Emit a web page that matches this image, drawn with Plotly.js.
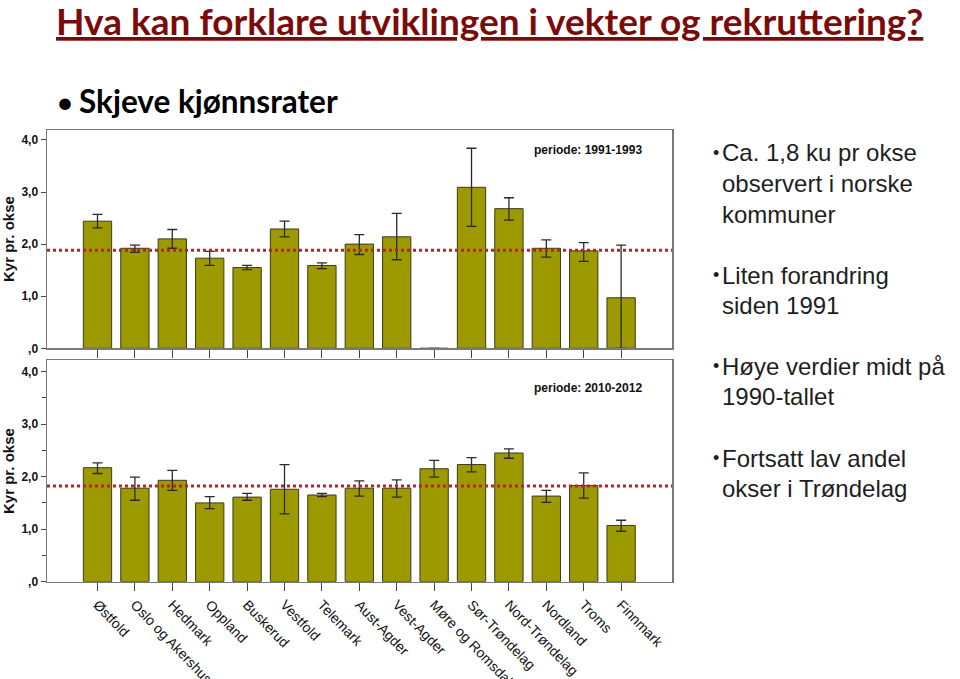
<!DOCTYPE html>
<html>
<head>
<meta charset="utf-8">
<script src="https://cdn.plot.ly/plotly-3.0.1.min.js"></script>
<style>
  html, body { margin: 0; padding: 0; background: #fff; }
  #chart { width: 960px; height: 679px; }
</style>
</head>
<body>
<div id="chart"></div>
<script>
// fylker langs x-aksen
const fylker = ['Østfold', 'Oslo og Akershus', 'Hedmark', 'Oppland', 'Buskerud',
  'Vestfold', 'Telemark', 'Aust-Agder', 'Vest-Agder', 'Møre og Romsdal',
  'Sør-Trøndelag', 'Nord-Trøndelag', 'Nordland', 'Troms', 'Finnmark'];

// periode 1991-1993: gjennomsnitt og konfidensintervall
const kyr9193   = [2.44, 1.92, 2.10, 1.73, 1.55, 2.29, 1.59, 2.00, 2.14, 0, 3.09, 2.68, 1.92, 1.87, 0.97];
const ovre9193  = [2.57, 1.98, 2.28, 1.86, 1.59, 2.44, 1.64, 2.18, 2.59, null, 3.84, 2.89, 2.08, 2.03, 1.98];
const nedre9193 = [2.31, 1.84, 1.92, 1.59, 1.51, 2.14, 1.53, 1.80, 1.70, null, 2.34, 2.46, 1.75, 1.67, 0];
const snitt9193 = 1.88;

// periode 2010-2012
const kyr1012   = [2.17, 1.78, 1.93, 1.50, 1.61, 1.76, 1.65, 1.78, 1.78, 2.15, 2.23, 2.45, 1.63, 1.83, 1.07];
const ovre1012  = [2.26, 1.99, 2.12, 1.62, 1.68, 2.23, 1.68, 1.92, 1.94, 2.31, 2.36, 2.53, 1.74, 2.07, 1.17];
const nedre1012 = [2.06, 1.55, 1.74, 1.39, 1.55, 1.29, 1.62, 1.63, 1.61, 1.99, 2.09, 2.35, 1.51, 1.59, 0.96];
const snitt1012 = 1.82;

const yTicks = [0, 1, 2, 3, 4];
const yTickText = [',0', '1,0', '2,0', '3,0', '4,0'];

const punkter = [
  ['Ca. 1,8 ku pr okse', 'observert i norske', 'kommuner'],
  ['Liten forandring', 'siden 1991'],
  ['Høye verdier midt på', '1990-tallet'],
  ['Fortsatt lav andel', 'okser i Trøndelag']
];

const W = 960, H = 679;
const px = x => x / W;
const py = y => 1 - y / H;

const olive = '#9c9a00';
const frame = '#7a7a7a';
const arial = 'Liberation Sans, Arial, sans-serif';

function barTrace(vals, hi, lo, xa, ya) {
  return {
    type: 'bar',
    x: fylker,
    y: vals,
    xaxis: xa,
    yaxis: ya,
    marker: { color: olive, line: { color: '#3b3b1e', width: 1 } },
    error_y: {
      type: 'data',
      symmetric: false,
      array: vals.map((v, i) => hi[i] == null ? null : hi[i] - v),
      arrayminus: vals.map((v, i) => lo[i] == null ? null : v - lo[i]),
      color: '#2b2b2b',
      thickness: 1.3,
      width: 5
    },
    hoverinfo: 'skip'
  };
}

const data = [
  barTrace(kyr9193, ovre9193, nedre9193, 'x', 'y'),
  barTrace(kyr1012, ovre1012, nedre1012, 'x2', 'y2')
];

const xRange = [-1.35, 15.36];
const xBase = {
  type: 'category',
  range: xRange,
  domain: [px(47), px(672)],
  showline: true, mirror: true, linecolor: frame, linewidth: 1.5,
  ticks: 'outside', ticklen: 8, tickcolor: '#444', tickwidth: 1,
  showgrid: false, zeroline: false, fixedrange: true
};
const yBase = {
  tickvals: yTicks, ticktext: yTickText,
  showline: true, mirror: true, linecolor: frame, linewidth: 1.5,
  ticks: 'outside', ticklen: 5, tickcolor: '#444',
  tickfont: { family: arial, size: 12, color: '#111', weight: 'bold' },
  showgrid: false, zeroline: false, fixedrange: true
};

const annotations = [];
// tittel og undertittel
annotations.push({
  xref: 'paper', yref: 'paper', x: px(54), y: py(20), xanchor: 'left', yanchor: 'middle',
  text: '<u>Hva kan forklare utviklingen i vekter og rekruttering?</u>', showarrow: false,
  font: { family: 'Lato, sans-serif', size: 37, color: '#7b0b0b', weight: 'bold' }
});
annotations.push({
  xref: 'paper', yref: 'paper', x: px(54), y: py(101), xanchor: 'left', yanchor: 'middle',
  text: '•', showarrow: false,
  font: { family: 'Lato, sans-serif', size: 31, color: '#000' }
});
annotations.push({
  xref: 'paper', yref: 'paper', x: px(77), y: py(101), xanchor: 'left', yanchor: 'middle',
  text: 'Skjeve kjønnsrater', showarrow: false,
  font: { family: 'Lato, sans-serif', size: 31.5, color: '#000', weight: 'bold' }
});
// aksetitler
[239, 471].forEach(yc => {
  annotations.push({
    xref: 'paper', yref: 'paper', x: px(8), y: py(yc), xanchor: 'center', yanchor: 'middle',
    text: 'Kyr pr. okse', textangle: -90, showarrow: false,
    font: { family: arial, size: 15, color: '#111', weight: 'bold' }
  });
});
// periodeetiketter
[[150, 'periode: 1991-1993'], [388, 'periode: 2010-2012']].forEach(([yc, t]) => {
  annotations.push({
    xref: 'paper', yref: 'paper', x: px(532), y: py(yc), xanchor: 'left', yanchor: 'middle',
    text: t, showarrow: false,
    font: { family: arial, size: 12, color: '#111', weight: 'bold' }
  });
});
// punktliste til høyre
const startY = [153, 275, 366, 458];
punkter.forEach((linjer, k) => {
  annotations.push({
    xref: 'paper', yref: 'paper', x: px(711), y: py(startY[k]), xanchor: 'left', yanchor: 'middle',
    text: '•', showarrow: false,
    font: { family: arial, size: 18, color: '#1e1e1e' }
  });
  linjer.forEach((l, j) => {
    annotations.push({
      xref: 'paper', yref: 'paper', x: px(720), y: py(startY[k] + j * 30.5), xanchor: 'left', yanchor: 'middle',
      text: l, showarrow: false,
      font: { family: arial, size: 24, color: '#1e1e1e' }
    });
  });
});

const layout = {
  width: W, height: H,
  margin: { l: 0, r: 0, t: 0, b: 0 },
  paper_bgcolor: '#fff', plot_bgcolor: '#fff',
  showlegend: false,
  bargap: 0.243,
  xaxis: Object.assign({}, xBase, { anchor: 'y', showticklabels: false }),
  xaxis2: Object.assign({}, xBase, {
    anchor: 'y2', tickangle: 46,
    tickfont: { family: arial, size: 14, color: '#111' }
  }),
  yaxis: Object.assign({}, yBase, { anchor: 'x', domain: [py(348.3), py(130)], range: [0, 4.19] }),
  yaxis2: Object.assign({}, yBase, {
    anchor: 'x2', domain: [py(581.7), py(360)], range: [0, 4.22],
    minor: { dtick: 0.5, ticks: 'outside', ticklen: 4, tickcolor: '#444' }
  }),
  shapes: [
    { type: 'line', xref: 'x domain', yref: 'y', x0: 0, x1: 1, y0: snitt9193, y1: snitt9193,
      line: { color: '#c21f24', width: 3, dash: 'dot' } },
    { type: 'line', xref: 'x2 domain', yref: 'y2', x0: 0, x1: 1, y0: snitt1012, y1: snitt1012,
      line: { color: '#c21f24', width: 3, dash: 'dot' } }
  ],
  annotations: annotations
};

Plotly.newPlot('chart', data, layout, { staticPlot: true });
</script>
</body>
</html>
